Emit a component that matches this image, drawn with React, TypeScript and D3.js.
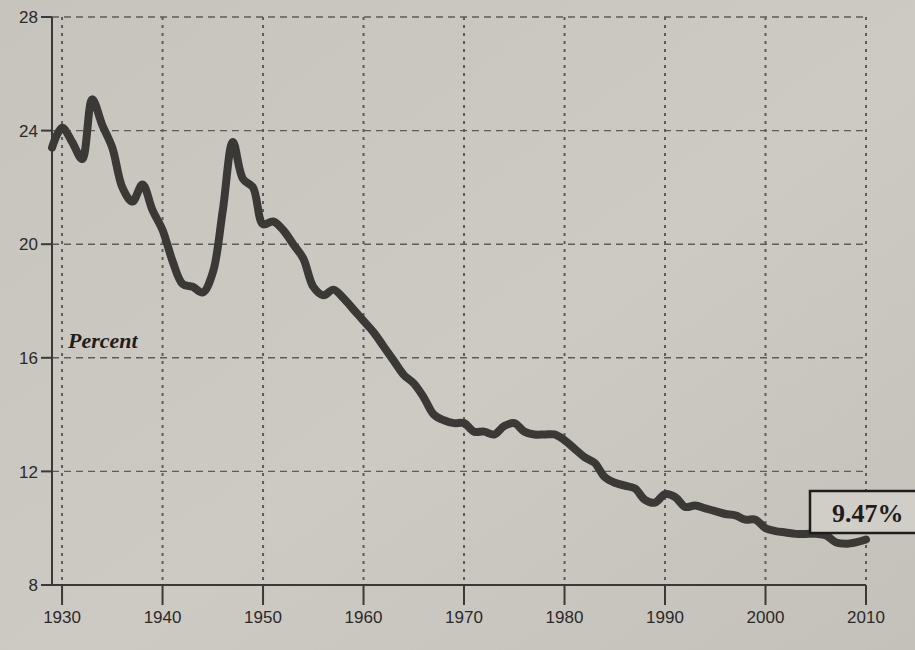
import React from "react";
import * as d3 from "d3";

const years: number[] = d3.range(1929, 2011);
const percent: number[] = [
  23.4, 24.1, 23.6, 23.0, 25.1, 24.2, 23.4, 22.0, 21.5, 22.1,
  21.2, 20.5, 19.4, 18.6, 18.5, 18.3, 19.0, 21.2, 23.6, 22.3,
  22.0, 20.7, 20.8, 20.5, 20.0, 19.5, 18.5, 18.2, 18.4, 18.1,
  17.7, 17.3, 16.9, 16.4, 15.9, 15.4, 15.1, 14.6, 14.0, 13.8,
  13.7, 13.7, 13.4, 13.4, 13.3, 13.6, 13.7, 13.4, 13.3, 13.3,
  13.3, 13.1, 12.8, 12.5, 12.3, 11.8, 11.6, 11.5, 11.4, 11.0,
  10.9, 11.2, 11.1, 10.75, 10.8, 10.7, 10.6, 10.5, 10.45, 10.3,
  10.3, 10.0, 9.9, 9.85, 9.8, 9.8, 9.8, 9.75, 9.5, 9.45,
  9.5, 9.6,
];
const xTicks: number[] = [1930, 1940, 1950, 1960, 1970, 1980, 1990, 2000, 2010];
const yTicks: number[] = [8, 12, 16, 20, 24, 28];
const axisLabel = "Percent";
const calloutLabel = "9.47%";

export default function App() {
  const W = 915;
  const H = 650;
  const x = d3.scaleLinear().domain([1929, 2010]).range([52, 866]);
  const y = d3.scaleLinear().domain([8, 28]).range([585, 17]);
  const data = years.map((yr, i) => ({ yr, v: percent[i] }));
  const line = d3
    .line<{ yr: number; v: number }>()
    .x((d) => x(d.yr))
    .y((d) => y(d.v))
    .curve(d3.curveCatmullRom.alpha(0.5));
  const ink = "#3b3936";
  const grid = "#5e5c58";
  const sans = "'Liberation Sans', Arial, sans-serif";
  const serif = "'Liberation Serif', 'Times New Roman', serif";

  return (
    <svg
      width={W}
      height={H}
      style={{ position: "absolute", left: 0, top: 0, display: "block" }}
    >
      <defs>
        <linearGradient id="paper" x1="0" y1="0" x2="1" y2="1">
          <stop offset="0%" stopColor="#c7c4be" />
          <stop offset="55%" stopColor="#cdcac4" />
          <stop offset="100%" stopColor="#c4c1bb" />
        </linearGradient>
      </defs>
      <rect x={0} y={0} width={W} height={H} fill="url(#paper)" />

      {/* horizontal dashed gridlines */}
      {yTicks
        .filter((t) => t > 8)
        .map((t) => (
          <line
            key={"h" + t}
            x1={x(1929)}
            x2={x(2010)}
            y1={y(t)}
            y2={y(t)}
            stroke={grid}
            strokeWidth={1.4}
            strokeDasharray="7 5"
          />
        ))}
      {/* vertical dotted gridlines */}
      {xTicks.map((t) => (
        <line
          key={"v" + t}
          x1={x(t)}
          x2={x(t)}
          y1={y(28)}
          y2={y(8)}
          stroke={grid}
          strokeWidth={2}
          strokeDasharray="3 5"
        />
      ))}

      {/* y axis */}
      <line x1={x(1929)} x2={x(1929)} y1={y(28)} y2={y(8)} stroke={ink} strokeWidth={2} />
      {yTicks.map((t) => (
        <g key={"yt" + t}>
          <line x1={x(1929) - 11} x2={x(1929)} y1={y(t)} y2={y(t)} stroke={ink} strokeWidth={2} />
          <text
            x={x(1929) - 14}
            y={y(t)}
            dy="0.36em"
            textAnchor="end"
            fontFamily={sans}
            fontSize={17}
            fill="#2c2a28"
          >
            {t}
          </text>
        </g>
      ))}

      {/* x axis */}
      <line x1={x(1929) - 10} x2={x(2010)} y1={y(8)} y2={y(8)} stroke={ink} strokeWidth={2} />
      {xTicks.map((t) => (
        <g key={"xt" + t}>
          <line x1={x(t)} x2={x(t)} y1={y(8)} y2={y(8) + 20} stroke={ink} strokeWidth={2} />
          <text
            x={x(t)}
            y={y(8) + 38}
            textAnchor="middle"
            fontFamily={sans}
            fontSize={17}
            fill="#2c2a28"
          >
            {t}
          </text>
        </g>
      ))}

      {/* data line */}
      <path
        d={line(data) || ""}
        fill="none"
        stroke={ink}
        strokeWidth={8}
        strokeLinejoin="round"
        strokeLinecap="round"
      />

      {/* labels */}
      <text
        x={68}
        y={348}
        fontFamily={serif}
        fontStyle="italic"
        fontWeight="bold"
        fontSize={22}
        fill="#1f1d1b"
      >
        {axisLabel}
      </text>

      <rect
        x={810}
        y={491}
        width={120}
        height={42}
        fill="#d1cec8"
        stroke="#1f1d1b"
        strokeWidth={2.5}
      />
      <text
        x={832}
        y={522}
        fontFamily={serif}
        fontWeight="bold"
        fontSize={26}
        fill="#1f1d1b"
      >
        {calloutLabel}
      </text>
    </svg>
  );
}
